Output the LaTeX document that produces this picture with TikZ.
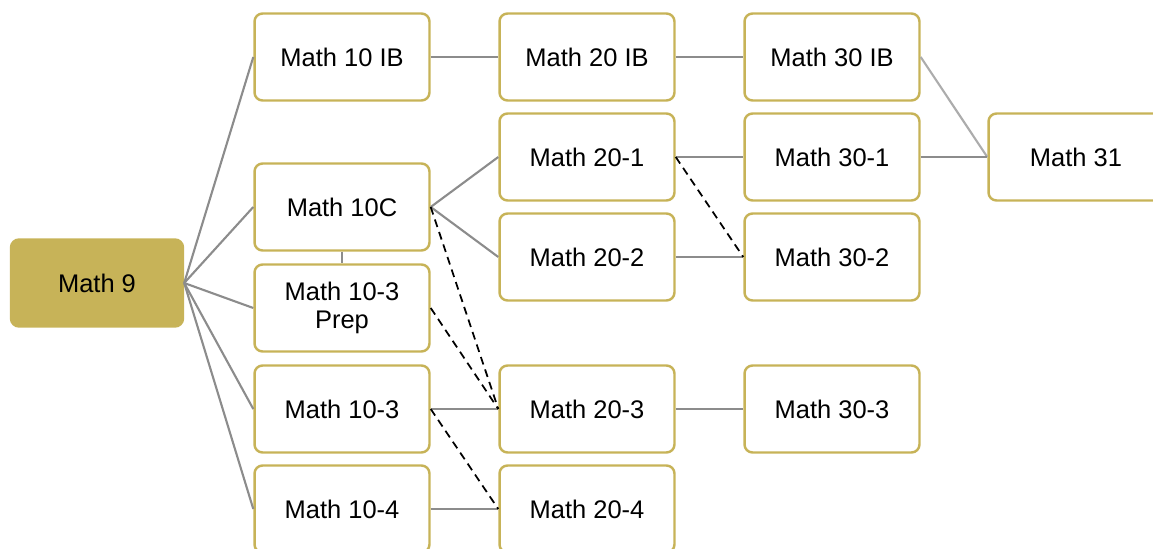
\documentclass[tikz,border=0pt]{standalone}
\usepackage{fontspec}
\setmainfont{Liberation Sans}
\definecolor{gold}{RGB}{199,179,88}
\definecolor{linkgray}{RGB}{140,140,140}
\definecolor{lightgray}{RGB}{172,172,172}
\tikzset{
  course/.style={draw=gold, line width=1.4pt, rounded corners=0.16cm, fill=white,
    minimum width=3.5cm, minimum height=1.74cm, align=center,
    font=\fontsize{14.5}{16}\selectfont},
  start/.style={course, fill=gold, minimum width=3.44cm},
  link/.style={draw=linkgray, line width=1.2pt},
  alt/.style={draw=black, dash pattern=on 4.5pt off 3pt, line width=1pt}
}
\begin{document}
\begin{tikzpicture}[x=0.02cm, y=-0.02cm]
                \useasboundingbox (0,0) rectangle (1153,548);

                \node[start] (m9) at (97,283) {Math 9};

                \node[course] (m10ib) at (342,57) {Math 10 IB};
                \node[course] (m10c) at (342,207) {Math 10C};
                \node[course] (m10p) at (342,308) {Math 10-3\\Prep};
                \node[course] (m103) at (342,409) {Math 10-3};
                \node[course] (m104) at (342,509) {Math 10-4};

                \node[course] (m20ib) at (587,57) {Math 20 IB};
                \node[course] (m201) at (587,157) {Math 20-1};
                \node[course] (m202) at (587,257) {Math 20-2};
                \node[course] (m203) at (587,409) {Math 20-3};
                \node[course] (m204) at (587,509) {Math 20-4};

                \node[course] (m30ib) at (832,57) {Math 30 IB};
                \node[course] (m301) at (832,157) {Math 30-1};
                \node[course] (m302) at (832,257) {Math 30-2};
                \node[course] (m303) at (832,409) {Math 30-3};

                \node[course] (m31) at (1076,157) {Math 31};

                \draw[link] (m9.east) -- (m10ib.west);
                \draw[link] (m9.east) -- (m10c.west);
                \draw[link] (m9.east) -- (m10p.west);
                \draw[link] (m9.east) -- (m103.west);
                \draw[link] (m9.east) -- (m104.west);
                \draw[draw=linkgray, line width=0.6pt] (m10c.south) -- (m10p.north);

                \draw[link] (m10ib.east) -- (m20ib.west);
                \draw[link] (m10c.east) -- (m201.west);
                \draw[link] (m10c.east) -- (m202.west);
                \draw[link] (m103.east) -- (m203.west);
                \draw[link] (m104.east) -- (m204.west);
                \draw[alt] (m10c.east) -- (m203.west);
                \draw[alt] (m10p.east) -- (m203.west);
                \draw[alt] (m103.east) -- (m204.west);

                \draw[link] (m20ib.east) -- (m30ib.west);
                \draw[link] (m201.east) -- (m301.west);
                \draw[link] (m202.east) -- (m302.west);
                \draw[link] (m203.east) -- (m303.west);
                \draw[alt] (m201.east) -- (m302.west);

                \draw[draw=lightgray, line width=1.2pt] (m30ib.east) -- (m31.west);
                \draw[link] (m301.east) -- (m31.west);
            \end{tikzpicture}
\end{document}
